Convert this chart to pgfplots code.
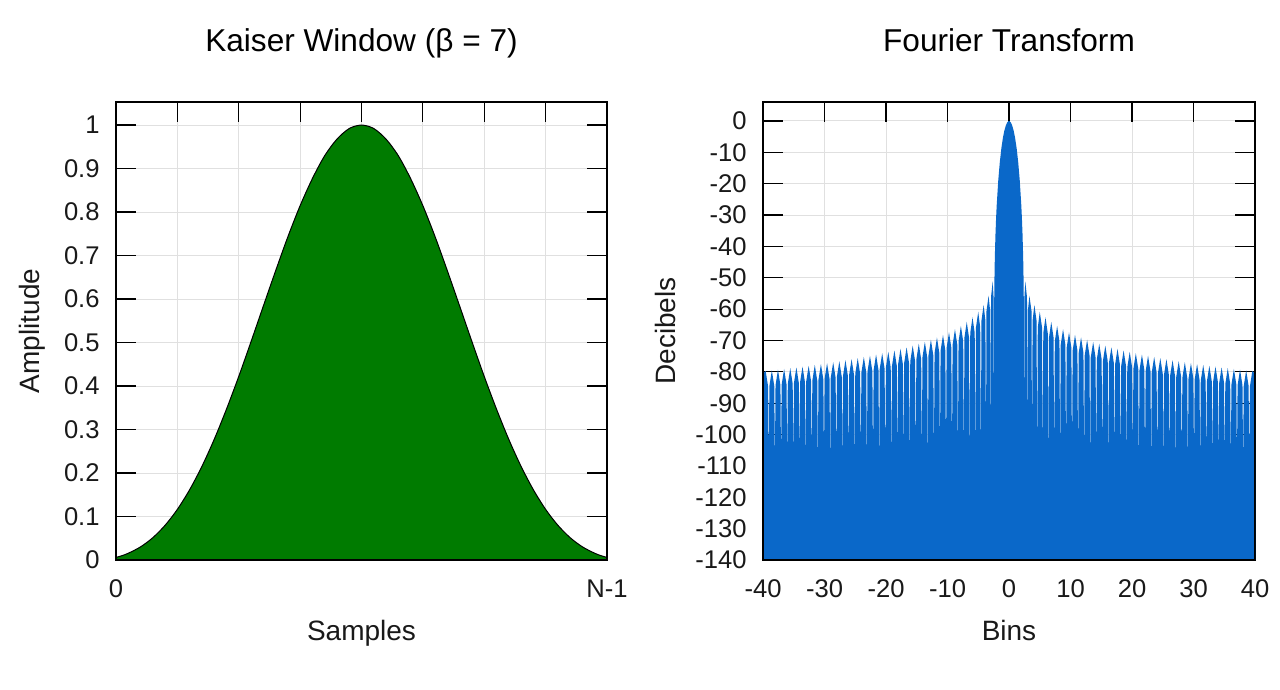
\documentclass[border=0pt]{standalone}
\usepackage{fontspec}
\setmainfont{Liberation Sans}
\usepackage{pgfplots}
\pgfplotsset{compat=1.18}
\usepackage{pgfplotstable}
\definecolor{kgreen}{RGB}{0,123,0}
\definecolor{kblue}{RGB}{10,104,201}
\definecolor{gridgray}{RGB}{224,224,224}
\definecolor{txt}{RGB}{25,25,25}

\pgfplotstableread{
x y
0 0.0059
0.005 0.0075
0.0125 0.0101
0.025 0.0155
0.05 0.0302
0.075 0.0513
0.1 0.0798
0.125 0.1164
0.15 0.1616
0.175 0.2153
0.2 0.2773
0.225 0.3468
0.25 0.4220
0.275 0.5019
0.3 0.5836
0.325 0.6646
0.35 0.7430
0.375 0.8146
0.4 0.8770
0.425 0.9295
0.45 0.9676
0.475 0.9920
0.5 1.0000
0.525 0.9920
0.55 0.9676
0.575 0.9295
0.6 0.8770
0.625 0.8146
0.65 0.7430
0.675 0.6646
0.7 0.5836
0.725 0.5019
0.75 0.4220
0.775 0.3468
0.8 0.2773
0.825 0.2153
0.85 0.1616
0.875 0.1164
0.9 0.0798
0.925 0.0513
0.95 0.0302
0.975 0.0155
0.9875 0.0101
0.995 0.0075
1 0.0059
}\kaiser

\pgfplotstableread{
x y
-0.1 -140
-0.1 -0.05
0 0
0.25 -0.33
0.5 -1.33
0.75 -3.03
1 -5.49
1.25 -8.83
1.5 -13.22
1.75 -19.00
2 -26.90
2.1 -31.04
2.2 -36.17
2.3 -43.16
2.35 -48.21
2.4 -56.32
2.42 -62.5
2.442 -110
2.512 -56.14
2.648 -51.14
2.924 -56.14
2.994 -110
3.064 -60.71
3.318 -55.71
3.667 -60.71
3.737 -110
3.837 -63.67
4.125 -58.67
4.479 -63.67
4.579 -110
4.679 -65.87
5.001 -60.87
5.374 -65.87
5.474 -110
5.574 -67.63
5.934 -62.63
6.300 -67.63
6.400 -110
6.500 -69.08
6.871 -64.08
7.246 -69.08
7.346 -110
7.446 -70.32
7.824 -65.32
8.205 -70.32
8.305 -110
8.405 -71.41
8.787 -66.41
9.172 -71.41
9.272 -110
9.372 -72.37
9.758 -67.37
10.145 -72.37
10.245 -110
10.345 -73.24
10.734 -68.24
11.126 -73.24
11.226 -110
11.326 -74.03
11.716 -69.03
12.107 -74.03
12.207 -110
12.307 -74.76
12.699 -69.76
13.091 -74.76
13.191 -110
13.291 -75.43
13.684 -70.43
14.077 -75.43
14.177 -110
14.277 -76.05
14.671 -71.05
15.065 -76.05
15.165 -110
15.265 -76.63
15.660 -71.63
16.055 -76.63
16.155 -110
16.255 -77.17
16.650 -72.17
17.046 -77.17
17.146 -110
17.246 -77.68
17.642 -72.68
18.038 -77.68
18.138 -110
18.238 -78.16
18.634 -73.16
19.031 -78.16
19.131 -110
19.231 -78.62
19.627 -73.62
20.024 -78.62
20.124 -110
20.224 -79.06
20.621 -74.06
21.018 -79.06
21.118 -110
21.218 -79.47
21.615 -74.47
22.013 -79.47
22.113 -110
22.213 -79.86
22.610 -74.86
23.008 -79.86
23.108 -110
23.208 -80.24
23.606 -75.24
24.003 -80.24
24.103 -110
24.203 -80.60
24.601 -75.60
24.999 -80.60
25.099 -110
25.199 -80.95
25.597 -75.95
25.995 -80.95
26.095 -110
26.195 -81.28
26.594 -76.28
26.992 -81.28
27.092 -110
27.192 -81.61
27.590 -76.61
27.989 -81.61
28.089 -110
28.189 -81.92
28.587 -76.92
28.986 -81.92
29.086 -110
29.186 -82.22
29.584 -77.22
29.983 -82.22
30.083 -110
30.183 -82.51
30.581 -77.51
30.980 -82.51
31.080 -110
31.180 -82.79
31.579 -77.79
31.978 -82.79
32.078 -110
32.178 -83.06
32.576 -78.06
32.975 -83.06
33.075 -110
33.175 -83.32
33.574 -78.32
33.973 -83.32
34.073 -110
34.173 -83.58
34.572 -78.58
34.971 -83.58
35.071 -110
35.171 -83.82
35.570 -78.82
35.969 -83.82
36.069 -110
36.169 -84.07
36.568 -79.07
36.967 -84.07
37.067 -110
37.167 -84.30
37.566 -79.30
37.965 -84.30
38.065 -110
38.165 -84.53
38.564 -79.53
38.964 -84.53
39.064 -110
39.164 -84.75
39.563 -79.75
40 -80.5
40 -140
}\spectrum

\pgfplotsset{
  panel/.style={
    scale only axis,
    height=229pt,
    axis line style={line width=0.75pt, black},
    tick align=inside,
    major tick length=10pt,
    tick style={line width=0.6pt, black},
    grid=major,
    grid style={gridgray, line width=0.5pt},
    tick label style={font=\fontsize{12.8}{15}\selectfont, text=txt},
    /pgf/number format/assume math mode=true,
    xticklabel style={anchor=base, yshift=-19pt},
    yticklabel style={anchor=east, inner sep=0pt, xshift=-8pt},
    label style={font=\fontsize{14}{16}\selectfont, text=txt},
    xlabel style={at={(axis description cs:0.5,0)}, anchor=base, yshift=-40.5pt},
    title style={at={(axis description cs:0.5,1)}, anchor=base, yshift=19pt,
                 font=\fontsize{15.8}{18}\selectfont, text=black},
  }
}

\begin{document}
\begin{tikzpicture}
\begin{axis}[panel,
  at={(58pt,0pt)}, anchor=south west,
  width=245.5pt,
  xmin=0, xmax=1, ymin=0, ymax=1.053,
  xtick={0,0.125,0.25,0.375,0.5,0.625,0.75,0.875,1},
  xticklabels={0,,,,,,,,N-1},
  ytick={0,0.1,0.2,0.3,0.4,0.5,0.6,0.7,0.8,0.9,1},
  yticklabels={0,0.1,0.2,0.3,0.4,0.5,0.6,0.7,0.8,0.9,1},
  title={Kaiser Window (β = 7)},
  xlabel={Samples},
  ylabel={Amplitude},
  ylabel style={at={(axis description cs:-0.170,0.5)}, anchor=center},
]
\addplot[fill=kgreen, draw=black, line width=0.5pt, smooth, tension=0.5] table[x=x, y=y] {\kaiser} \closedcycle;
\draw[black, line width=0.75pt] (rel axis cs:0,0) rectangle (rel axis cs:1,1);
\end{axis}

\begin{axis}[panel,
  at={(381.5pt,0pt)}, anchor=south west,
  width=246pt,
  xmin=-40, xmax=40, ymin=-140, ymax=6.06,
  xtick={-40,-30,-20,-10,0,10,20,30,40},
  xticklabels={-40,-30,-20,-10,0,10,20,30,40},
  ytick={-140,-130,-120,-110,-100,-90,-80,-70,-60,-50,-40,-30,-20,-10,0},
  yticklabels={-140,-130,-120,-110,-100,-90,-80,-70,-60,-50,-40,-30,-20,-10,0},
  title={Fourier Transform},
  xlabel={Bins},
  ylabel={Decibels},
  ylabel style={at={(axis description cs:-0.198,0.5)}, anchor=center},
]
\addplot[fill=kblue, draw=none] table[x=x, y=y] {\spectrum};
\addplot[fill=kblue, draw=none] table[x expr=-\thisrow{x}, y=y] {\spectrum};
\draw[black, line width=0.75pt] (rel axis cs:0,0) rectangle (rel axis cs:1,1);
\end{axis}
\pgfresetboundingbox
\path[use as bounding box] (0pt,-65pt) rectangle (640pt,280pt);
\end{tikzpicture}
\end{document}
